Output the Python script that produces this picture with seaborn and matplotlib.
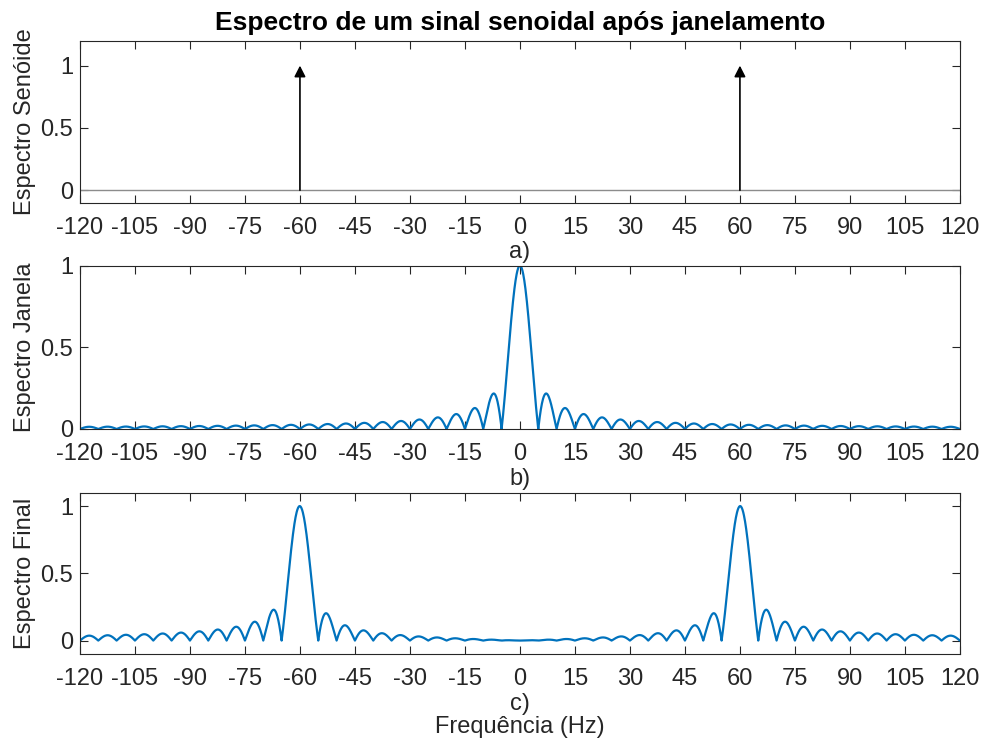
import numpy as np
import pandas as pd
import matplotlib
matplotlib.use("Agg")
import matplotlib.pyplot as plt
import seaborn as sns

# Sinusoid components (Hz, amplitude)
sine_freqs = [-60, 60]
sine_amps = [1.0, 1.0]

# Rectangular window length (s) -> spectral nulls every 1/T Hz
window_len = 0.2

# Frequency axis and ticks
freq_min, freq_max, freq_step = -120, 120, 0.1
freq_ticks = [-120, -105, -90, -75, -60, -45, -30, -15, 0,
              15, 30, 45, 60, 75, 90, 105, 120]
y_ticks = [0, 0.5, 1]

title = "Espectro de um sinal senoidal após janelamento"
ylabels = ["Espectro Senóide", "Espectro Janela", "Espectro Final"]
xlabels = ["a)", "b)", "c)\nFrequência (Hz)"]

# Spectra: window transform and its convolution with the two impulses
freq = np.round(np.arange(freq_min, freq_max + freq_step / 2, freq_step), 6)
window_spec = np.abs(np.sinc(freq * window_len))
final_spec = np.abs(sum(a * np.sinc((freq - f0) * window_len)
                        for f0, a in zip(sine_freqs, sine_amps)))
df_win = pd.DataFrame({"f": freq, "mag": window_spec})
df_fin = pd.DataFrame({"f": freq, "mag": final_spec})

sns.set_theme(style="white")
plt.rcParams["font.family"] = ["Liberation Sans", "DejaVu Sans"]
ink = "#262626"
plt.rcParams.update({
    "axes.edgecolor": ink,
    "axes.linewidth": 0.8,
    "xtick.color": ink,
    "ytick.color": ink,
    "text.color": ink,
    "axes.labelcolor": ink,
})
blue = "#0072BD"
fs = 17

fig = plt.figure(figsize=(9.81, 7.4), dpi=100)
left, width = 0.0815, 0.897
ax1 = fig.add_axes([left, 0.726, width, 0.219])
ax2 = fig.add_axes([left, 0.4203, width, 0.2207])
ax3 = fig.add_axes([left, 0.1162, width, 0.218])

# a) impulses of the pure sinusoid
ax1.plot([freq_min, freq_max], [0, 0], color="#8c8c8c", lw=1.0, zorder=1)
for f0, a in zip(sine_freqs, sine_amps):
    ax1.annotate("", xy=(f0, a), xytext=(f0, 0),
                 arrowprops=dict(arrowstyle="-|>,head_length=0.55,head_width=0.28",
                                 color="black", lw=1.2, shrinkA=0, shrinkB=0),
                 zorder=3)

# b) window spectrum, c) windowed sinusoid spectrum
sns.lineplot(data=df_win, x="f", y="mag", ax=ax2, color=blue, lw=1.6)
sns.lineplot(data=df_fin, x="f", y="mag", ax=ax3, color=blue, lw=1.6)

ylims = [(-0.1, 1.2), (0, 1), (-0.1, 1.1)]
for ax, yl, xlab, ylab in zip([ax1, ax2, ax3], ylims, xlabels, ylabels):
    ax.set_xlim(freq_min, freq_max)
    ax.set_ylim(*yl)
    ax.set_xticks(freq_ticks)
    ax.set_xticklabels([str(t) for t in freq_ticks])
    ax.set_yticks(y_ticks)
    ax.set_yticklabels(["0", "0.5", "1"])
    ax.tick_params(direction="in", length=6, width=0.8, labelsize=fs,
                   top=True, right=True, bottom=True, left=True)
    ax.tick_params(axis="x", pad=10)
    ax.tick_params(axis="y", pad=5)
    ax.set_xlabel(xlab, fontsize=fs, labelpad=2, linespacing=1.05)
    ax.set_ylabel(ylab, fontsize=fs, labelpad=3)
    for s in ax.spines.values():
        s.set_visible(True)
        s.set_color(ink)

ax1.set_title(title, fontsize=19, fontweight="bold", pad=8, color="black")

fig.savefig("out.png", dpi=100, facecolor="white")
